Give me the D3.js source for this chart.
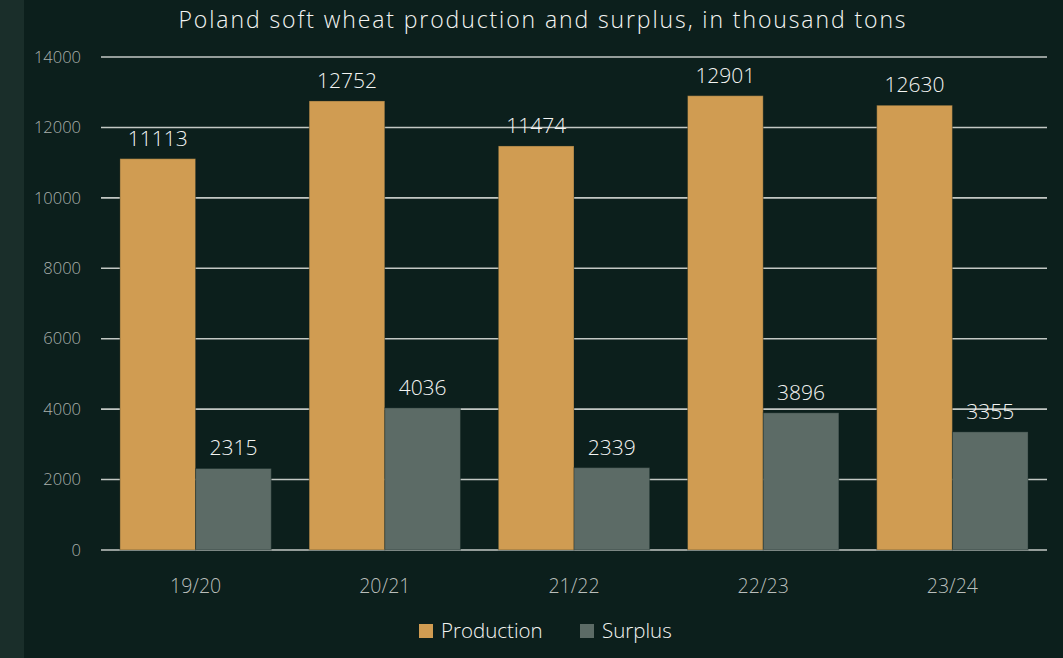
<!DOCTYPE html>
<html>
<head>
<meta charset="utf-8">
<script src="https://cdn.jsdelivr.net/npm/d3@7"></script>
<style>
  html, body { margin: 0; padding: 0; background: #0c1f1c; }
  svg { display: block; }
  text { font-family: "Open Sans", "Noto Sans", sans-serif; font-weight: 350; }
</style>
</head>
<body>
<svg id="chart" width="1063" height="658"></svg>
<script>
// Marketing years
const seasons = ["19/20", "20/21", "21/22", "22/23", "23/24"];
// Soft wheat figures, thousand tons
const production = [11113, 12752, 11474, 12901, 12630];
const surplus = [2315, 4036, 2339, 3896, 3355];
// Value axis ticks
const yTicks = [0, 2000, 4000, 6000, 8000, 10000, 12000, 14000];

const seriesNames = ["Production", "Surplus"];
const seriesColors = ["#d09c52", "#5c6b66"];

const W = 1063, H = 658;
const margin = { top: 57, right: 16, bottom: 108, left: 101 };
const innerW = W - margin.left - margin.right;
const innerH = H - margin.top - margin.bottom;

const svg = d3.select("#chart");

// background and darker-teal side strip
svg.append("rect").attr("width", W).attr("height", H).attr("fill", "#0c1f1c");
svg.append("rect").attr("width", 24).attr("height", H).attr("fill", "#1a2e2a");

const g = svg.append("g").attr("transform", `translate(${margin.left},${margin.top})`);

const x0 = d3.scaleBand().domain(seasons).range([0, innerW]).paddingInner(0.2).paddingOuter(0.1);
const x1 = d3.scaleBand().domain(seriesNames).range([0, x0.bandwidth()]);
const y = d3.scaleLinear().domain([0, 14000]).range([innerH, 0]);

// gridlines
g.append("g")
  .selectAll("line")
  .data(yTicks)
  .join("line")
  .attr("x1", 0).attr("x2", innerW)
  .attr("y1", d => y(d)).attr("y2", d => y(d))
  .attr("stroke", "#c3c8c4")
  .attr("stroke-width", 1.6);

// y axis labels
const yAxis = g.append("g").call(d3.axisLeft(y).tickValues(yTicks).tickSize(0).tickPadding(20).tickFormat(d3.format("d")));
yAxis.select(".domain").remove();
yAxis.selectAll("text").attr("fill", "#a9b0ac").attr("font-size", 16.5).attr("font-family", null);

// x axis labels
const xAxis = g.append("g").attr("transform", `translate(0,${innerH})`)
  .call(d3.axisBottom(x0).tickSize(0).tickPadding(0));
xAxis.select(".domain").remove();
xAxis.selectAll("text").attr("fill", "#b9bebb").attr("font-size", 19.5).attr("font-family", null)
  .attr("dy", null).attr("y", 43);

const rows = seasons.map((s, i) => ({ season: s, values: [production[i], surplus[i]] }));

const groups = g.append("g").selectAll("g")
  .data(rows)
  .join("g")
  .attr("transform", d => `translate(${x0(d.season)},0)`);

groups.selectAll("rect")
  .data(d => d.values.map((v, j) => ({ key: seriesNames[j], value: v, j })))
  .join("rect")
  .attr("x", d => x1(d.key))
  .attr("y", d => y(d.value))
  .attr("width", x1.bandwidth())
  .attr("height", d => y(0) - y(d.value))
  .attr("fill", d => seriesColors[d.j])
  .attr("stroke", "#0c1f1c")
  .attr("stroke-opacity", 0.35)
  .attr("stroke-width", 1);

groups.selectAll("text.val")
  .data(d => d.values.map((v, j) => ({ key: seriesNames[j], value: v })))
  .join("text")
  .attr("class", "val")
  .attr("x", d => x1(d.key) + x1.bandwidth() / 2)
  .attr("y", d => y(d.value) - 13)
  .attr("text-anchor", "middle")
  .attr("fill", "#f4f5f3")
  .attr("font-size", 21)
  .text(d => d.value);

// title
svg.append("text")
  .attr("x", 543).attr("y", 28)
  .attr("text-anchor", "middle")
  .attr("fill", "#f4f5f3")
  .attr("font-size", 23)
  .attr("letter-spacing", 1.9)
  .text("Poland soft wheat production and surplus, in thousand tons");

// legend
const legend = svg.append("g").attr("transform", "translate(419,624)");
const legendX = [0, 161];
seriesNames.forEach((name, i) => {
  const item = legend.append("g").attr("transform", `translate(${legendX[i]},0)`);
  item.append("rect").attr("width", 14).attr("height", 14).attr("fill", seriesColors[i]);
  item.append("text").attr("x", 22).attr("y", 14).attr("fill", "#f4f5f3").attr("font-size", 20.5).text(name);
});
</script>
</body>
</html>
